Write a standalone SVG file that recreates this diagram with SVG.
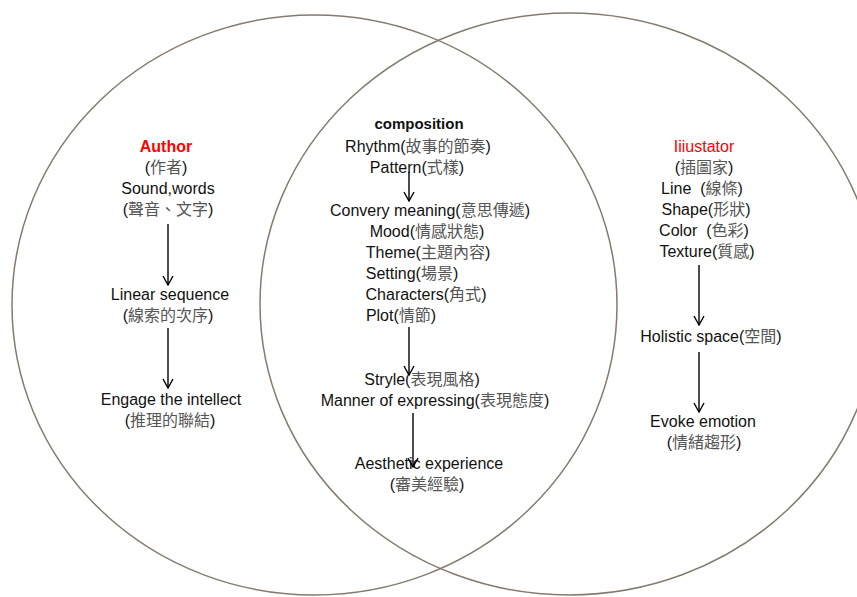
<svg xmlns="http://www.w3.org/2000/svg" width="857" height="597" viewBox="0 0 857 597">
<style>
.c{fill:none;stroke:#857a6e;stroke-width:1.5}
text{font-family:"Liberation Sans","Noto Sans CJK TC",sans-serif;font-size:16px;fill:#111;text-anchor:middle;white-space:pre}
.z{fill:#555;font-family:"Noto Sans CJK TC","Noto Sans CJK SC",sans-serif;font-size:16px}
.red{fill:#f00}
.b{font-weight:bold}
.a{stroke:#000;stroke-width:1.4;fill:none}
</style>
<defs>
<marker id="ah" viewBox="0 0 12 12" refX="11" refY="6" markerWidth="12" markerHeight="12" markerUnits="userSpaceOnUse" orient="auto">
<path d="M2,1 L11,6 L2,11" fill="none" stroke="#000" stroke-width="1.4"/>
</marker>
</defs>
<rect width="857" height="597" fill="#fff"/>
<g id="circles">
<ellipse class="c" cx="314.5" cy="305" rx="302.5" ry="290"/>
<ellipse class="c" cx="569" cy="304" rx="309" ry="291"/>
</g>
<g id="author">
<text x="166" y="152" class="red b">Author</text>
<text x="166" y="173">(<tspan class="z">作者</tspan>)</text>
<text x="168" y="194">Sound,words</text>
<text x="168" y="215">(<tspan class="z">聲音、文字</tspan>)</text>
</g>
<g id="linear">
<text x="170" y="300">Linear sequence</text>
<text x="168" y="321">(<tspan class="z">線索的次序</tspan>)</text>
</g>
<g id="engage">
<text x="171" y="405">Engage the intellect</text>
<text x="170" y="426">(<tspan class="z">推理的聯結</tspan>)</text>
</g>
<g id="composition">
<text x="419" y="129" class="b" style="font-size:15px">composition</text>
<text x="418" y="152">Rhythm(<tspan class="z">故事的節奏</tspan>)</text>
<text x="417" y="173">Pattern(<tspan class="z">式樣</tspan>)</text>
</g>
<g id="meaning">
<text x="430" y="216">Convery meaning(<tspan class="z">意思傳遞</tspan>)</text>
<text x="427" y="237">Mood(<tspan class="z">情感狀態</tspan>)</text>
<text x="428" y="258">Theme(<tspan class="z">主題內容</tspan>)</text>
<text x="412" y="279">Setting(<tspan class="z">場景</tspan>)</text>
<text x="426" y="300">Characters(<tspan class="z">角式</tspan>)</text>
<text x="401" y="321">Plot(<tspan class="z">情節</tspan>)</text>
</g>
<g id="style">
<text x="422" y="385">Stryle(<tspan class="z">表現風格</tspan>)</text>
<text x="435" y="406">Manner of expressing(<tspan class="z">表現態度</tspan>)</text>
</g>
<g id="aesthetic">
<text x="429" y="469">Aesthetic experience</text>
<text x="427" y="490">(<tspan class="z">審美經驗</tspan>)</text>
</g>
<g id="illustrator">
<text x="704" y="152" class="red">Iiiustator</text>
<text x="704" y="173">(<tspan class="z">插圖家</tspan>)</text>
<text x="702" y="194">Line  (<tspan class="z">線條</tspan>)</text>
<text x="706" y="215">Shape(<tspan class="z">形狀</tspan>)</text>
<text x="704" y="236">Color  (<tspan class="z">色彩</tspan>)</text>
<text x="707" y="257">Texture(<tspan class="z">質感</tspan>)</text>
</g>
<g id="holistic">
<text x="711" y="342">Holistic space(<tspan class="z">空間</tspan>)</text>
</g>
<g id="evoke">
<text x="703" y="427">Evoke emotion</text>
<text x="704" y="448">(<tspan class="z">情緒趨形</tspan>)</text>
</g>
<g id="connectors">
<line class="a" x1="168" y1="224" x2="168" y2="285" marker-end="url(#ah)"/>
<line class="a" x1="168" y1="328" x2="168" y2="388" marker-end="url(#ah)"/>
<line class="a" x1="409" y1="172" x2="409" y2="201" marker-end="url(#ah)"/>
<line class="a" x1="409" y1="327" x2="409" y2="375" marker-end="url(#ah)"/>
<line class="a" x1="413" y1="413" x2="413" y2="467" marker-end="url(#ah)"/>
<line class="a" x1="699" y1="265" x2="699" y2="325" marker-end="url(#ah)"/>
<line class="a" x1="699" y1="352" x2="699" y2="412" marker-end="url(#ah)"/>
</g>
</svg>
